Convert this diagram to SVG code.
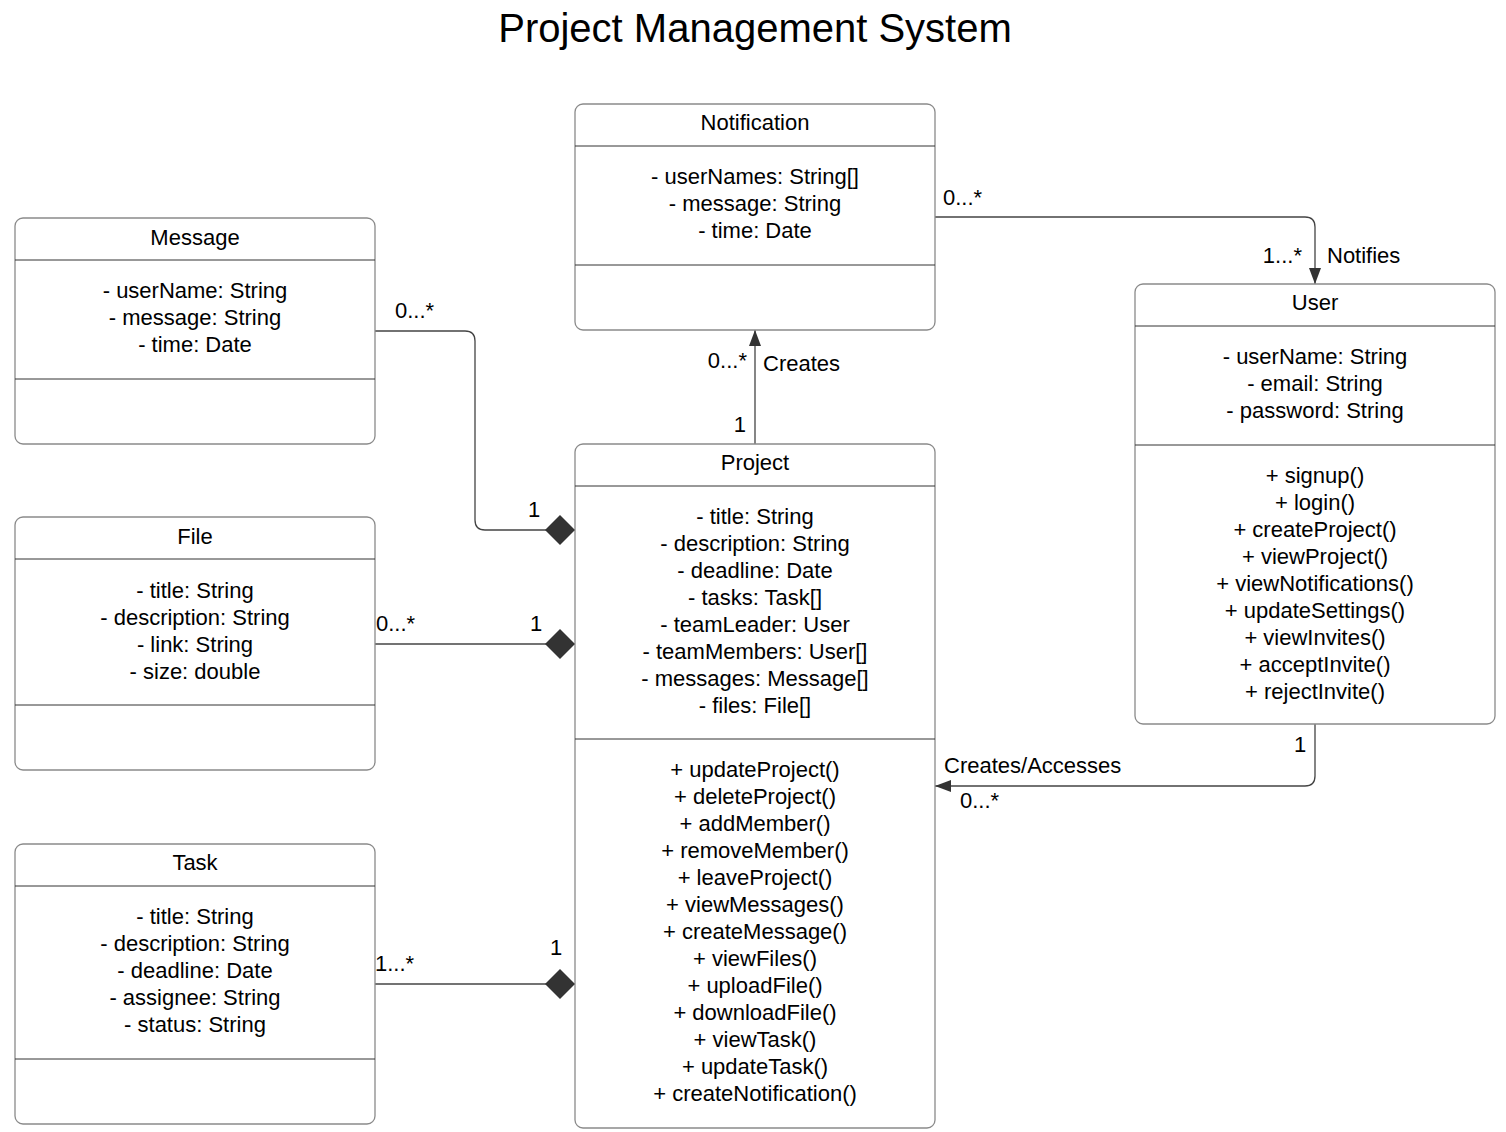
<svg xmlns="http://www.w3.org/2000/svg" width="1506" height="1132" viewBox="0 0 1506 1132">
<style>
text{font-family:"Liberation Sans",Arial,sans-serif;font-size:22px;fill:#000}
.c{text-anchor:middle}
.r{text-anchor:end}
.box{fill:#fff;stroke:#8a8a8a;stroke-width:1.3}
.div{stroke:#333;stroke-width:1}
.ln{fill:none;stroke:#444;stroke-width:1.3}
.title{font-size:40px}
</style>
<defs>
<marker id="arr" viewBox="0 0 16 12" refX="16" refY="6" markerWidth="16" markerHeight="12" markerUnits="userSpaceOnUse" orient="auto">
<path d="M0,0 L16,6 L0,12 Z" fill="#333"/>
</marker>
<marker id="dia" viewBox="0 0 32 32" refX="31" refY="16" markerWidth="32" markerHeight="32" markerUnits="userSpaceOnUse" orient="auto">
<path d="M1,16 L16,1 L31,16 L16,31 Z" fill="#333"/>
</marker>
</defs>
<rect width="1506" height="1132" fill="#fff"/>
<text class="c title" x="755" y="42">Project Management System</text>

<g id="connectors">
<path class="ln" d="M935,217 H1305 Q1315,217 1315,227 V284" marker-end="url(#arr)"/>
<path class="ln" d="M755,444 V330" marker-end="url(#arr)"/>
<path class="ln" d="M375,331 H465 Q475,331 475,341 V520 Q475,530 485,530 H575" marker-end="url(#dia)"/>
<path class="ln" d="M375,644 H575" marker-end="url(#dia)"/>
<path class="ln" d="M375,984 H575" marker-end="url(#dia)"/>
<path class="ln" d="M1315,724 V776 Q1315,786 1305,786 H935" marker-end="url(#arr)"/>
<text x="943" y="205">0...*</text>
<text class="r" x="1302" y="263">1...*</text>
<text x="1327" y="263">Notifies</text>
<text class="r" x="747" y="368">0...*</text>
<text x="763" y="371">Creates</text>
<text class="r" x="746" y="432">1</text>
<text x="395" y="318">0...*</text>
<text x="528" y="517">1</text>
<text x="376" y="631">0...*</text>
<text x="530" y="631">1</text>
<text x="375" y="971">1...*</text>
<text x="550" y="955">1</text>
<text x="1294" y="752">1</text>
<text x="944" y="773">Creates/Accesses</text>
<text x="960" y="808">0...*</text>
</g>

<g id="notification">
<rect class="box" x="575" y="104" width="360" height="226" rx="8"/>
<line class="div" x1="575" y1="146" x2="935" y2="146"/>
<line class="div" x1="575" y1="265" x2="935" y2="265"/>
<text class="c" x="755" y="130">Notification</text>
<text class="c" x="755" y="184">- userNames: String[]</text>
<text class="c" x="755" y="211">- message: String</text>
<text class="c" x="755" y="238">- time: Date</text>
</g>

<g id="message">
<rect class="box" x="15" y="218" width="360" height="226" rx="8"/>
<line class="div" x1="15" y1="260" x2="375" y2="260"/>
<line class="div" x1="15" y1="379" x2="375" y2="379"/>
<text class="c" x="195" y="245">Message</text>
<text class="c" x="195" y="298">- userName: String</text>
<text class="c" x="195" y="325">- message: String</text>
<text class="c" x="195" y="352">- time: Date</text>
</g>

<g id="file">
<rect class="box" x="15" y="517" width="360" height="253" rx="8"/>
<line class="div" x1="15" y1="559" x2="375" y2="559"/>
<line class="div" x1="15" y1="705" x2="375" y2="705"/>
<text class="c" x="195" y="544">File</text>
<text class="c" x="195" y="598">- title: String</text>
<text class="c" x="195" y="625">- description: String</text>
<text class="c" x="195" y="652">- link: String</text>
<text class="c" x="195" y="679">- size: double</text>
</g>

<g id="task">
<rect class="box" x="15" y="844" width="360" height="280" rx="8"/>
<line class="div" x1="15" y1="886" x2="375" y2="886"/>
<line class="div" x1="15" y1="1059" x2="375" y2="1059"/>
<text class="c" x="195" y="870">Task</text>
<text class="c" x="195" y="924">- title: String</text>
<text class="c" x="195" y="951">- description: String</text>
<text class="c" x="195" y="978">- deadline: Date</text>
<text class="c" x="195" y="1005">- assignee: String</text>
<text class="c" x="195" y="1032">- status: String</text>
</g>

<g id="project">
<rect class="box" x="575" y="444" width="360" height="684" rx="8"/>
<line class="div" x1="575" y1="486" x2="935" y2="486"/>
<line class="div" x1="575" y1="739" x2="935" y2="739"/>
<text class="c" x="755" y="470">Project</text>
<text class="c" x="755" y="524">- title: String</text>
<text class="c" x="755" y="551">- description: String</text>
<text class="c" x="755" y="578">- deadline: Date</text>
<text class="c" x="755" y="605">- tasks: Task[]</text>
<text class="c" x="755" y="632">- teamLeader: User</text>
<text class="c" x="755" y="659">- teamMembers: User[]</text>
<text class="c" x="755" y="686">- messages: Message[]</text>
<text class="c" x="755" y="713">- files: File[]</text>
<text class="c" x="755" y="777">+ updateProject()</text>
<text class="c" x="755" y="804">+ deleteProject()</text>
<text class="c" x="755" y="831">+ addMember()</text>
<text class="c" x="755" y="858">+ removeMember()</text>
<text class="c" x="755" y="885">+ leaveProject()</text>
<text class="c" x="755" y="912">+ viewMessages()</text>
<text class="c" x="755" y="939">+ createMessage()</text>
<text class="c" x="755" y="966">+ viewFiles()</text>
<text class="c" x="755" y="993">+ uploadFile()</text>
<text class="c" x="755" y="1020">+ downloadFile()</text>
<text class="c" x="755" y="1047">+ viewTask()</text>
<text class="c" x="755" y="1074">+ updateTask()</text>
<text class="c" x="755" y="1101">+ createNotification()</text>
</g>

<g id="user">
<rect class="box" x="1135" y="284" width="360" height="440" rx="8"/>
<line class="div" x1="1135" y1="326" x2="1495" y2="326"/>
<line class="div" x1="1135" y1="445" x2="1495" y2="445"/>
<text class="c" x="1315" y="310">User</text>
<text class="c" x="1315" y="364">- userName: String</text>
<text class="c" x="1315" y="391">- email: String</text>
<text class="c" x="1315" y="418">- password: String</text>
<text class="c" x="1315" y="483">+ signup()</text>
<text class="c" x="1315" y="510">+ login()</text>
<text class="c" x="1315" y="537">+ createProject()</text>
<text class="c" x="1315" y="564">+ viewProject()</text>
<text class="c" x="1315" y="591">+ viewNotifications()</text>
<text class="c" x="1315" y="618">+ updateSettings()</text>
<text class="c" x="1315" y="645">+ viewInvites()</text>
<text class="c" x="1315" y="672">+ acceptInvite()</text>
<text class="c" x="1315" y="699">+ rejectInvite()</text>
</g>
</svg>
